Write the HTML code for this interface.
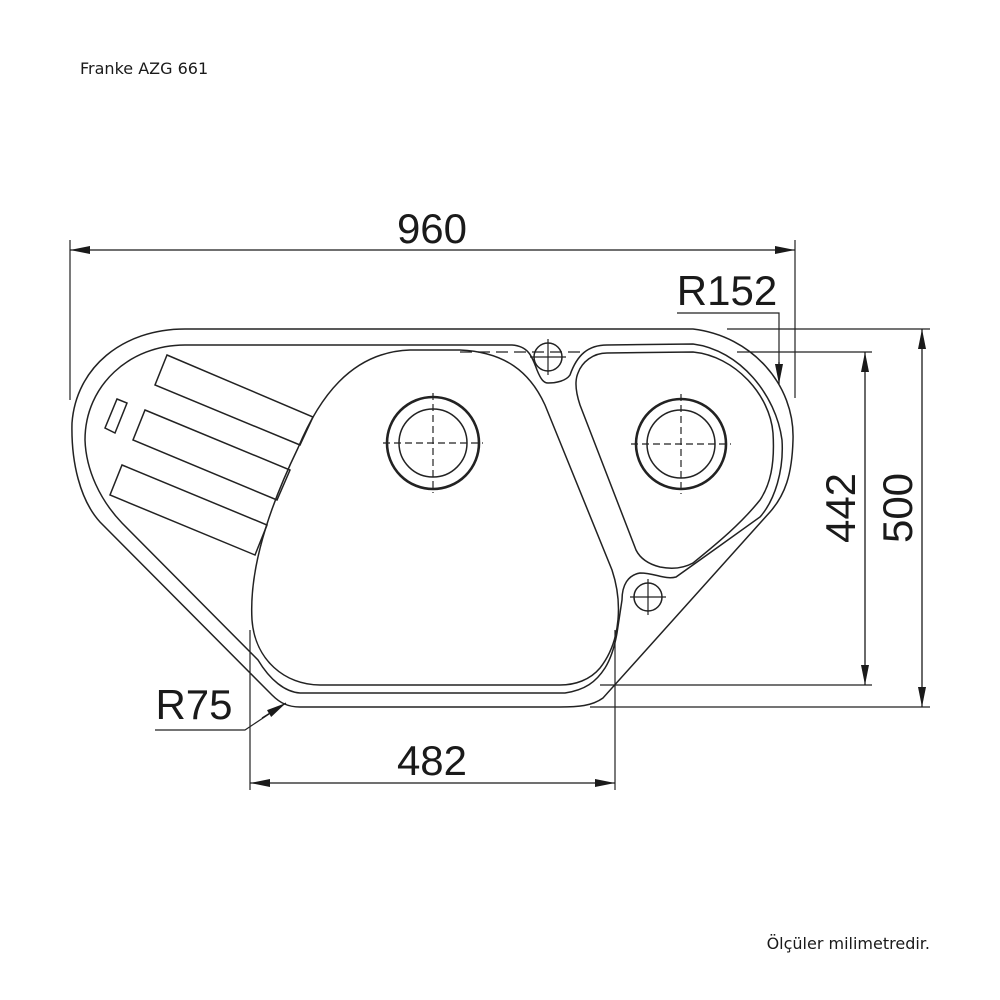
<!DOCTYPE html>
<html><head><meta charset="utf-8"><style>
html,body{margin:0;padding:0;background:#fff;}
svg{display:block;}
text{font-family:"Liberation Sans",sans-serif;fill:#1a1a1a;}
</style></head><body>
<svg width="1000" height="1000" viewBox="0 0 1000 1000" xmlns="http://www.w3.org/2000/svg">
<defs>
<marker id="a" viewBox="0 0 20 8" refX="20" refY="4" markerWidth="20" markerHeight="8" markerUnits="userSpaceOnUse" orient="auto-start-reverse"><path d="M0,0 L20,4 L0,8 Z" fill="#1a1a1a"/></marker>
</defs>
<text x="80" y="74" style="font-family:'DejaVu Sans',sans-serif;font-size:16px">Franke AZG 661</text>
<text x="930" y="949" text-anchor="end" style="font-family:'DejaVu Sans',sans-serif;font-size:16px">Ölçüler milimetredir.</text>

<g fill="none" stroke="#222" stroke-width="1.5">
<path d="M185,329 L693,329 C752,336 795,385 793,440 C792,475 785,495 770,512 L603,698 C592,706 578,707 560,707 L300,707 C288,707 280,703 272,695 L100,522 C80,500 71,462 72,423 C76,368 122,329 185,329 Z"/>
<path d="M185,345 L512,345 C528,346 532,356 537,370 C541,380 544,383 548,383 C556,383 566,381 570,375 C577,355 588,345 607,345 L693,344 C740,350 776,395 782,440 C784,470 775,500 760,517 C735,535 700,560 676,577 C665,580 655,573 640,573 C628,575 622,585 622,600 L617,633 C614,650 610,660 605,668 C596,682 585,690 565,693 L300,693 C285,692 270,680 258,660 L122,523 C100,500 86,470 85,440 C85,385 130,345 185,345 Z"/>
<path d="M607,353 L693,352 C735,356 770,395 773,433 C775,465 770,485 760,500 C740,525 715,545 693,563 C682,569 670,569 660,567 C648,564 640,558 636,550 L580,405 C575,390 575,380 578,373 C582,362 593,353 607,353 Z"/>
<path d="M460,350 C505,352 530,372 545,405 L612,570 C622,600 622,640 600,668 C590,680 575,685 560,685 L320,685 C285,685 255,660 252,620 C249,570 268,510 298,448 C318,400 350,352 410,350 Z"/>
<path d="M167,355 L313,417 L300,445 L155,385 Z"/>
<path d="M145,410 L290,470 L277,500 L133,440 Z"/>
<path d="M122,465 L267,525 L255,555 L110,495 Z"/>
<path d="M117,399 L127,403 L115,433 L105,428 Z"/>
<circle cx="433" cy="443" r="46" stroke-width="2.6"/>
<circle cx="433" cy="443" r="34"/>
<circle cx="681" cy="444" r="45" stroke-width="2.6"/>
<circle cx="681" cy="444" r="34"/>
<circle cx="548" cy="357" r="14"/>
<circle cx="648" cy="597" r="14"/>
</g>
<g stroke="#222" stroke-width="1.2" fill="none">
<path d="M383,443 H483 M433,393 V493 M631,444 H731 M681,394 V494" stroke-dasharray="7,4"/>
<path d="M530,357 H566 M548,339 V375 M630,597 H666 M648,579 V615"/>
<path d="M460,352 H583" stroke-dasharray="12,6"/>
<path d="M70,240 V400 M795,240 V398 M737,352 H872 M600,685 H872 M727,329 H930 M590,707 H930 M250,630 V790 M615,630 V790"/>
<path d="M677,313 H779 V372"/>
<path d="M155,730 H245 L272,712"/>
</g>
<g stroke="#1a1a1a" stroke-width="1.3" fill="none">
<line x1="70" y1="250" x2="795" y2="250" marker-start="url(#a)" marker-end="url(#a)"/>
<line x1="865" y1="352" x2="865" y2="685" marker-start="url(#a)" marker-end="url(#a)"/>
<line x1="922" y1="329" x2="922" y2="707" marker-start="url(#a)" marker-end="url(#a)"/>
<line x1="250" y1="783" x2="615" y2="783" marker-start="url(#a)" marker-end="url(#a)"/>
<line x1="779" y1="362" x2="779" y2="384" marker-end="url(#a)"/>
<line x1="262" y1="718" x2="286" y2="703" marker-end="url(#a)"/>
</g>
<text x="432" y="243" text-anchor="middle" font-size="42">960</text>
<text x="727" y="305" text-anchor="middle" font-size="42">R152</text>
<text x="194" y="719" text-anchor="middle" font-size="42">R75</text>
<text x="432" y="775" text-anchor="middle" font-size="42">482</text>
<text transform="translate(855,508) rotate(-90)" text-anchor="middle" font-size="42">442</text>
<text transform="translate(912,508) rotate(-90)" text-anchor="middle" font-size="42">500</text>
</svg>
</body></html>
